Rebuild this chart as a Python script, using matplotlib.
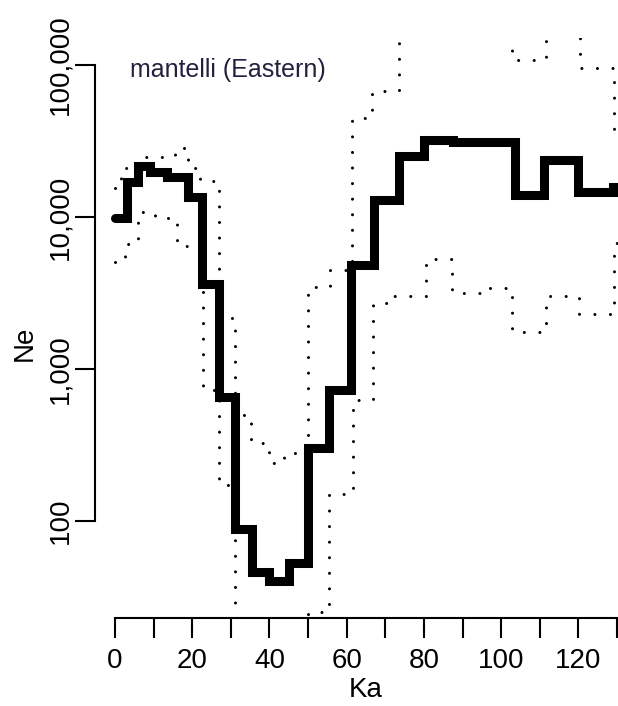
import matplotlib
matplotlib.use("Agg")
import matplotlib.pyplot as plt
from matplotlib.ticker import NullLocator

plt.rcParams['font.family'] = ['Liberation Sans', 'DejaVu Sans']
plt.rcParams['lines.scale_dashes'] = False

# Bayesian skyline: change points (Ka) and effective population size in each interval
median_edges = [0, 3, 6, 9, 13.5, 19, 22.5, 27, 31, 35.5, 40, 45, 50, 55.5,
                61, 67, 73.5, 80, 87.5, 103.5, 111, 120, 129, 130.5]
median_ne = [9800, 17000, 21700, 19800, 18300, 13500, 3600, 655, 88, 46, 40,
             53, 300, 730, 4800, 12900, 25200, 32100, 31100, 14000, 23700,
             14600, 15700]

# Upper 95% HPD bound
upper_edges = [0, 1.6, 6.0, 15.5, 18.9, 22.0, 26.9, 31.1, 35.2, 39.9, 43.8,
               50.0, 55.7, 61.4, 66.6, 73.5, 102.8, 111.6, 120.4, 129.2, 130.5]
upper_ne = [15500, 21000, 24800, 28500, 21000, 17300, 2170, 498, 326, 241,
            280, 3460, 4480, 44800, 67400, 230000, 108000, 230000, 95500, 37300]

# Lower 95% HPD bound
lower_edges = [0, 2.6, 6.0, 10.4, 14.2, 16.0, 22.8, 26.9, 31.1, 50.0, 55.4,
               61.6, 66.8, 72.2, 80.5, 87.3, 95.0, 102.8, 111.6, 120.1, 129.2,
               130.5]
lower_ne = [5060, 6640, 10800, 9840, 8990, 6440, 728, 173, 10, 25.2, 151, 625,
            2720, 3020, 5300, 3160, 3410, 1750, 3020, 2300, 6740]

x_ticks = list(range(0, 131, 10))
x_labels = ["0", "", "20", "", "40", "", "60", "", "80", "", "100", "", "120", ""]
y_ticks = [100, 1000, 10000, 100000]
y_labels = ["100", "1,000", "10,000", "100,000"]

title = "mantelli (Eastern)"

W, H = 618, 706
fig = plt.figure(figsize=(W / 100, H / 100), dpi=100)

# plot region in pixels
left_px, right_px, top_px, bottom_px = 95, 618, 38, 618
ax = fig.add_axes([left_px / W, (H - bottom_px) / H,
                   (right_px - left_px) / W, (bottom_px - top_px) / H])
ax.set_yscale('log')
ax.set_xlim(-5.18, 130.24)
ax.set_ylim(23.0, 150500)


def steps(a, edges, values, **kw):
    return a.step(edges, list(values) + [values[-1]], where='post', **kw)


dot_style = dict(color='black', linewidth=2.2, linestyle=(0, (0.01, 11.2)),
                 dash_capstyle='round')
steps(ax, upper_edges, upper_ne, **dot_style)
steps(ax, lower_edges, lower_ne, **dot_style)
steps(ax, median_edges, median_ne, color='black', linewidth=6.5,
      solid_capstyle='round', solid_joinstyle='miter', zorder=3)

for side in ('top', 'right'):
    ax.spines[side].set_visible(False)
ax.spines['left'].set_bounds(100, 100000)
ax.spines['bottom'].set_bounds(0, 130)
for side in ('left', 'bottom'):
    ax.spines[side].set_linewidth(1.5)

ax.set_xticks(x_ticks)
ax.set_xticklabels(x_labels)
ax.set_yticks(y_ticks)
ax.set_yticklabels(y_labels)
ax.yaxis.set_minor_locator(NullLocator())
ax.tick_params(axis='both', direction='out', length=14.5, width=1.5,
               labelsize=20)
ax.tick_params(axis='x', pad=7)
ax.tick_params(axis='y', pad=1)
for lab in ax.get_yticklabels():
    lab.set_rotation(90)
    lab.set_va('center')

fig.text(25 / W, (H - 343) / H, "Ne", rotation=90, fontsize=20,
         ha='center', va='center')
fig.text(366 / W, (H - 690) / H, "Ka", fontsize=20, ha='center', va='center')
ax.text(3.9, 92700, title, fontsize=18, color='#262040',
        ha='left', va='center')

fig.savefig("out.png", dpi=100)
